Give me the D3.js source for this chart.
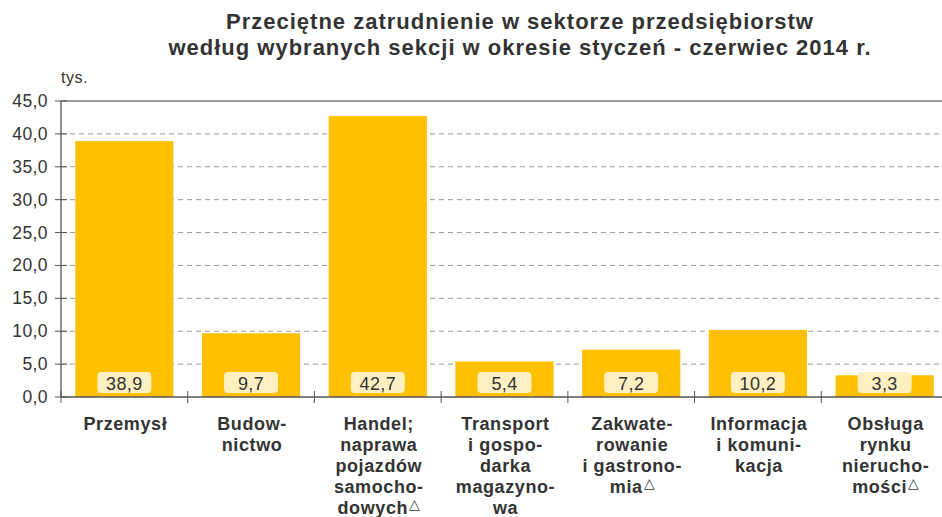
<!DOCTYPE html>
<html>
<head>
<meta charset="utf-8">
<script src="https://cdn.jsdelivr.net/npm/d3@7"></script>
<style>
  body { margin: 0; background: #fff; }
  text { font-family: "Liberation Sans", Arial, sans-serif; fill: #333; }
</style>
</head>
<body>
<svg id="chart" width="942" height="517"></svg>
<script>
// data
const categories = [
  ["Przemysł"],
  ["Budow-", "nictwo"],
  ["Handel;", "naprawa", "pojazdów", "samocho-", "dowych△"],
  ["Transport", "i gospo-", "darka", "magazyno-", "wa"],
  ["Zakwate-", "rowanie", "i gastrono-", "mia△"],
  ["Informacja", "i komuni-", "kacja"],
  ["Obsługa", "rynku", "nierucho-", "mości△"]
];
const values = [38.9, 9.7, 42.7, 5.4, 7.2, 10.2, 3.3];
const yTicks = [0, 5, 10, 15, 20, 25, 30, 35, 40, 45];

const svg = d3.select('#chart');
const plotLeft = 61, plotRight = 948, plotTop = 101, plotBottom = 397;

const x = d3.scaleBand()
    .domain(d3.range(values.length))
    .range([plotLeft, plotRight])
    .paddingInner(0.225)
    .paddingOuter(0.1125);

const y = d3.scaleLinear().domain([0, 45]).range([plotBottom, plotTop]);
const fmt = d => d.toFixed(1).replace('.', ',');

// title
svg.append('text')
    .attr('x', 520).attr('y', 29)
    .attr('text-anchor', 'middle')
    .style('font-size', '22px').style('font-weight', 'bold')
    .style('letter-spacing', '1px')
    .text('Przeciętne zatrudnienie w sektorze przedsiębiorstw');
svg.append('text')
    .attr('x', 520).attr('y', 55)
    .attr('text-anchor', 'middle')
    .style('font-size', '22px').style('font-weight', 'bold')
    .style('letter-spacing', '1px')
    .text('według wybranych sekcji w okresie styczeń - czerwiec 2014 r.');

svg.append('text')
    .attr('x', 61).attr('y', 83)
    .style('font-size', '16px')
    .style('letter-spacing', '0.5px')
    .text('tys.');

// grid lines
svg.selectAll('.grid')
    .data(yTicks.filter(d => d > 0))
    .enter()
    .append('line')
    .attr('x1', plotLeft).attr('x2', 942)
    .attr('y1', d => y(d)).attr('y2', d => y(d))
    .attr('stroke', d => d === 45 ? '#777' : '#999')
    .attr('stroke-width', d => d === 45 ? 1.3 : 1)
    .attr('stroke-dasharray', d => d === 45 ? null : '5,4');

// bars
svg.selectAll('.bar')
    .data(values)
    .enter()
    .append('rect')
    .attr('x', (d, i) => x(i))
    .attr('y', d => y(d))
    .attr('width', x.bandwidth())
    .attr('height', d => plotBottom - y(d))
    .attr('fill', '#ffc000');

// value boxes
const lab = svg.selectAll('.lab')
    .data(values)
    .enter()
    .append('g')
    .attr('transform', (d, i) => `translate(${x(i) + x.bandwidth() / 2},383)`);
lab.append('rect')
    .attr('x', -27).attr('width', 54)
    .attr('y', -11).attr('height', 21)
    .attr('rx', 4)
    .attr('fill', '#fff0c2');
lab.append('text')
    .attr('text-anchor', 'middle')
    .attr('y', 6.5)
    .style('font-size', '18px')
    .style('letter-spacing', '0.4px')
    .text(d => fmt(d));

// y axis
svg.append('line')
    .attr('x1', plotLeft).attr('x2', plotLeft)
    .attr('y1', plotTop).attr('y2', plotBottom)
    .attr('stroke', '#555').attr('stroke-width', 1.3);
svg.selectAll('.ytick')
    .data(yTicks)
    .enter()
    .append('line')
    .attr('x1', plotLeft - 6).attr('x2', plotLeft + 6)
    .attr('y1', d => y(d)).attr('y2', d => y(d))
    .attr('stroke', '#555');
svg.selectAll('.ylab')
    .data(yTicks)
    .enter()
    .append('text')
    .attr('x', 48).attr('y', d => y(d) + 6)
    .attr('text-anchor', 'end')
    .style('font-size', '17.5px')
    .style('letter-spacing', '0.4px')
    .text(d => fmt(d));

// x axis
svg.append('line')
    .attr('x1', plotLeft).attr('x2', 942)
    .attr('y1', plotBottom).attr('y2', plotBottom)
    .attr('stroke', '#555').attr('stroke-width', 1.3);
const step = x.step();
svg.selectAll('.xtick')
    .data(d3.range(values.length))
    .enter()
    .append('line')
    .attr('x1', i => x(i) - step * x.paddingInner() / 2)
    .attr('x2', i => x(i) - step * x.paddingInner() / 2)
    .attr('y1', plotBottom - 6).attr('y2', plotBottom + 6)
    .attr('stroke', '#555');

// category labels
const cat = svg.selectAll('.cat')
    .data(categories)
    .enter()
    .append('text')
    .attr('text-anchor', 'middle')
    .style('font-size', '18px').style('font-weight', 'bold')
    .style('letter-spacing', '0.6px')
    .attr('transform', (d, i) => `translate(${x(i) + x.bandwidth() / 2 + 1},430)`);
cat.each(function (lines) {
  const t = d3.select(this);
  lines.forEach((ln, k) => {
    const tri = ln.endsWith('△');
    t.append('tspan').attr('x', 0).attr('y', k * 21)
        .text(tri ? ln.slice(0, -1) : ln);
    if (tri) {
      t.append('tspan').attr('dy', -5).attr('dx', 1)
          .style('font-size', '14px').style('font-weight', 'normal')
          .style('letter-spacing', '0px')
          .text('△');
    }
  });
});
</script>
</body>
</html>
